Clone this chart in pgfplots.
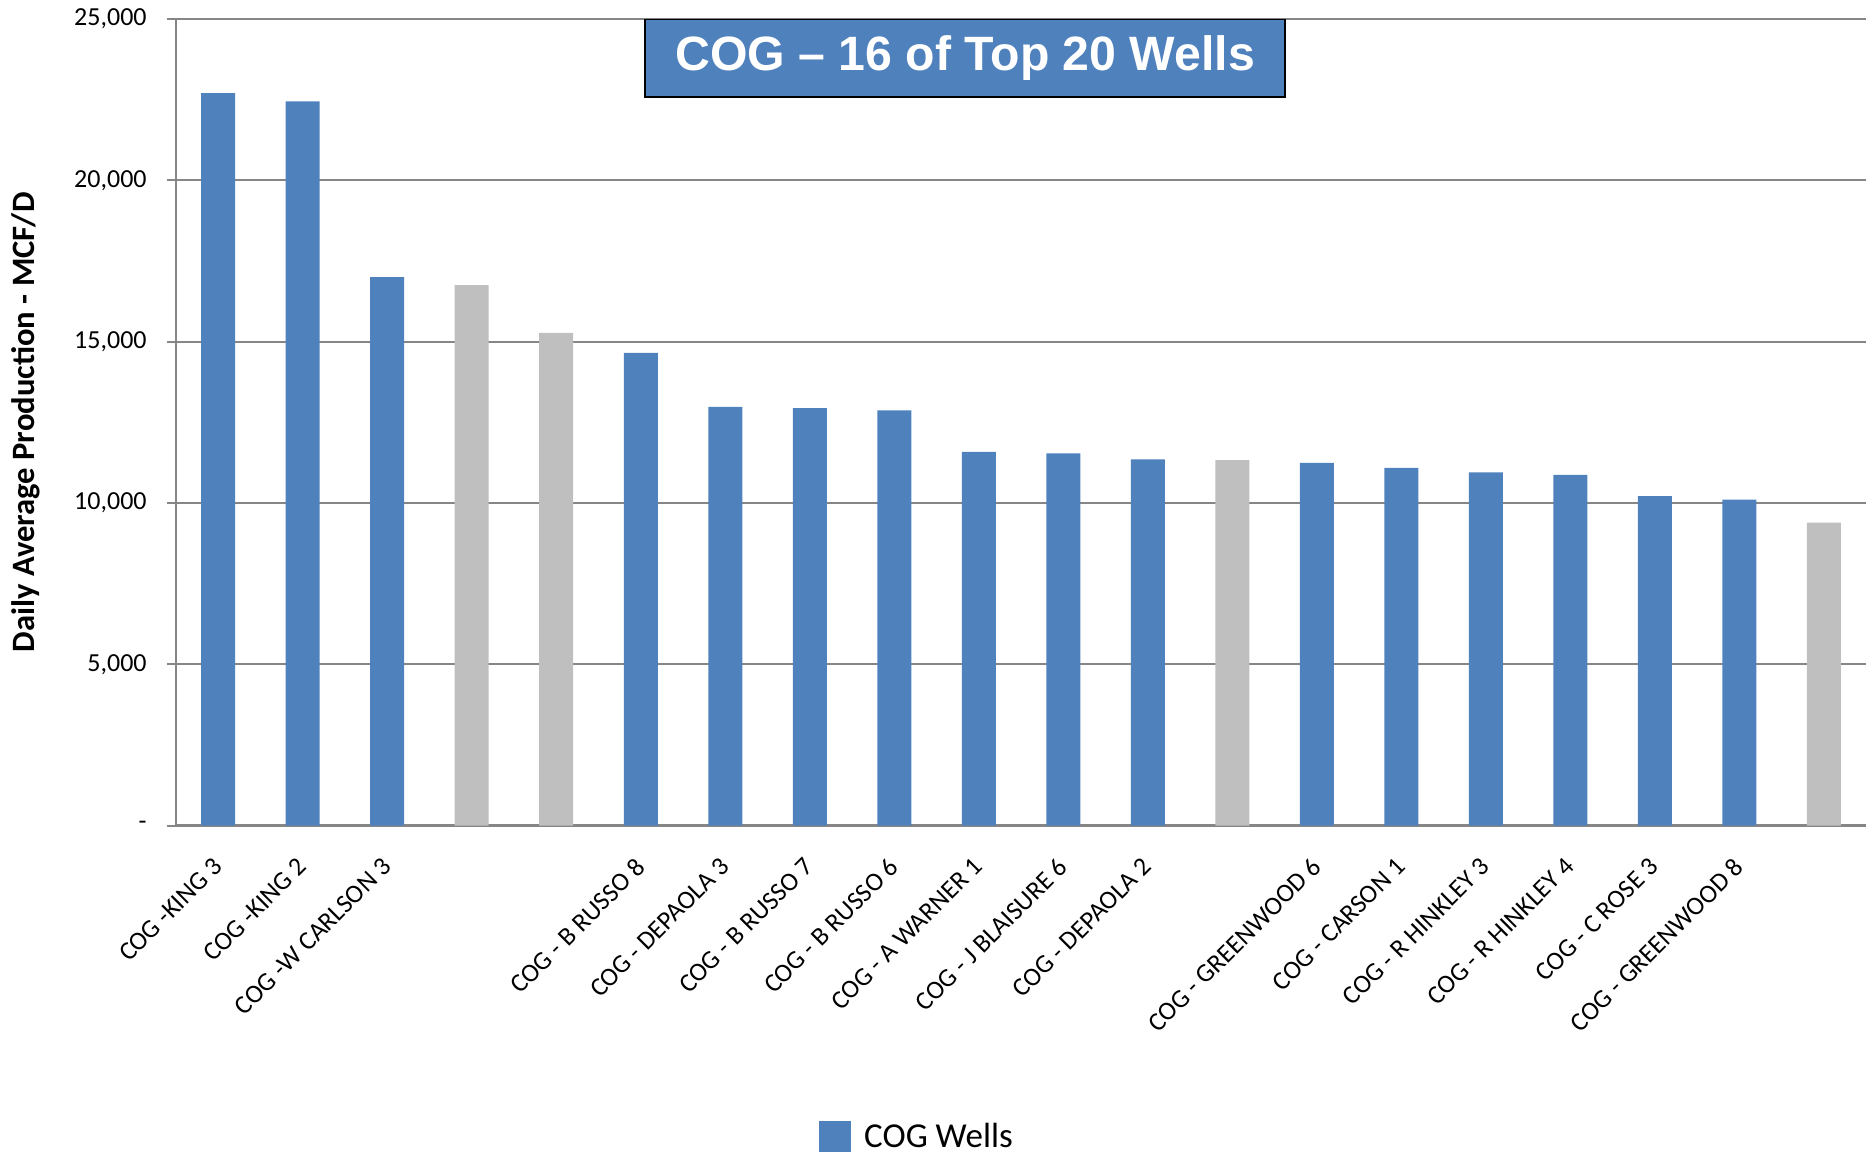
\documentclass[border=0pt]{standalone}
\usepackage{fontspec}
\setmainfont{Carlito}
\newfontfamily\arialfont{Liberation Sans}
\usepackage{pgfplots}
\pgfplotsset{compat=1.18}
\definecolor{cogblue}{HTML}{4F81BD}
\definecolor{cgray}{HTML}{BFBFBF}
\definecolor{gridgray}{HTML}{868686}
\begin{document}
\begin{tikzpicture}
\begin{axis}[
  name=ax,
  scale only axis,
  width=845pt, height=403.3pt,
  xmin=-0.5, xmax=19.5,
  ymin=0, ymax=25000,
  enlargelimits=false,
  axis x line*=bottom,
  axis y line*=left,
  axis line style={gridgray, line width=1.2pt, -},
  ymajorgrids,
  major grid style={gridgray, line width=1pt},
  ytick={0,5000,10000,15000,20000,25000},
  yticklabels={{-\hspace{6.5pt}},{5,000},{10,000},{15,000},{20,000},{25,000}},
  xtick={0,1,...,19},
  xticklabels={{COG -KING 3},{COG -KING 2},{COG -W CARLSON 3},{},{},{COG - B RUSSO 8},{COG - DEPAOLA 3},{COG - B RUSSO 7},{COG - B RUSSO 6},{COG - A WARNER 1},{COG - J BLAISURE 6},{COG - DEPAOLA 2},{},{COG - GREENWOOD 6},{COG - CARSON 1},{COG - R HINKLEY 3},{COG - R HINKLEY 4},{COG - C ROSE 3},{COG - GREENWOOD 8},{}},
  xtick style={draw=none},
  ytick style={gridgray, line width=1pt},
  tick align=outside,
  major tick length=4.5pt,
  xtick pos=bottom, ytick pos=left,
  xticklabel style={xshift=-3.4pt, yshift=-10.7pt, rotate=45, anchor=north east, inner sep=0pt, font=\fontsize{13}{15}\selectfont},
  yticklabel style={anchor=east, inner sep=0pt, xshift=-10pt, font=\fontsize{13}{15}\selectfont},
  ylabel={Daily Average Production - MCF/D},
  every axis y label/.style={at={(axis description cs:-0.0888,0.5)}, rotate=90, anchor=center, font=\bfseries\fontsize{16.3}{19}\selectfont},
  legend style={draw=none, fill=none, at={(axis description cs:0.380,-0.386)}, anchor=west, inner sep=0pt, font=\fontsize{17.5}{20}\selectfont, /tikz/every odd column/.append style={column sep=4.8pt}},
  ybar, bar width=17pt, bar shift=0pt,
]
\addplot[fill=cogblue, draw=none, legend image code/.code={\fill[cogblue] (0pt,-7.75pt) rectangle (16pt,7.75pt);}] coordinates {
  (0,22700) (1,22450) (2,17000) (5,14650) (6,12980) (7,12940) (8,12870)
  (9,11580) (10,11540) (11,11350) (13,11240) (14,11090) (15,10950)
  (16,10870) (17,10210) (18,10100)};
\addlegendentry{COG Wells}
\addplot[fill=cgray, draw=none, forget plot] coordinates {
  (3,16750) (4,15270) (12,11330) (19,9390)};
\node[draw=black, line width=1pt, fill=cogblue, text=white, minimum width=320pt, minimum height=38.7pt, inner sep=0pt, anchor=north, font=\arialfont\bfseries\fontsize{24.1}{27}\selectfont] at (axis description cs:0.467,1.001) {\raisebox{-1pt}{COG – 16 of Top 20 Wells}};
\end{axis}
\pgfresetboundingbox
\path (-88pt,-163.2pt) rectangle (847pt,412.8pt);
\end{tikzpicture}
\end{document}
